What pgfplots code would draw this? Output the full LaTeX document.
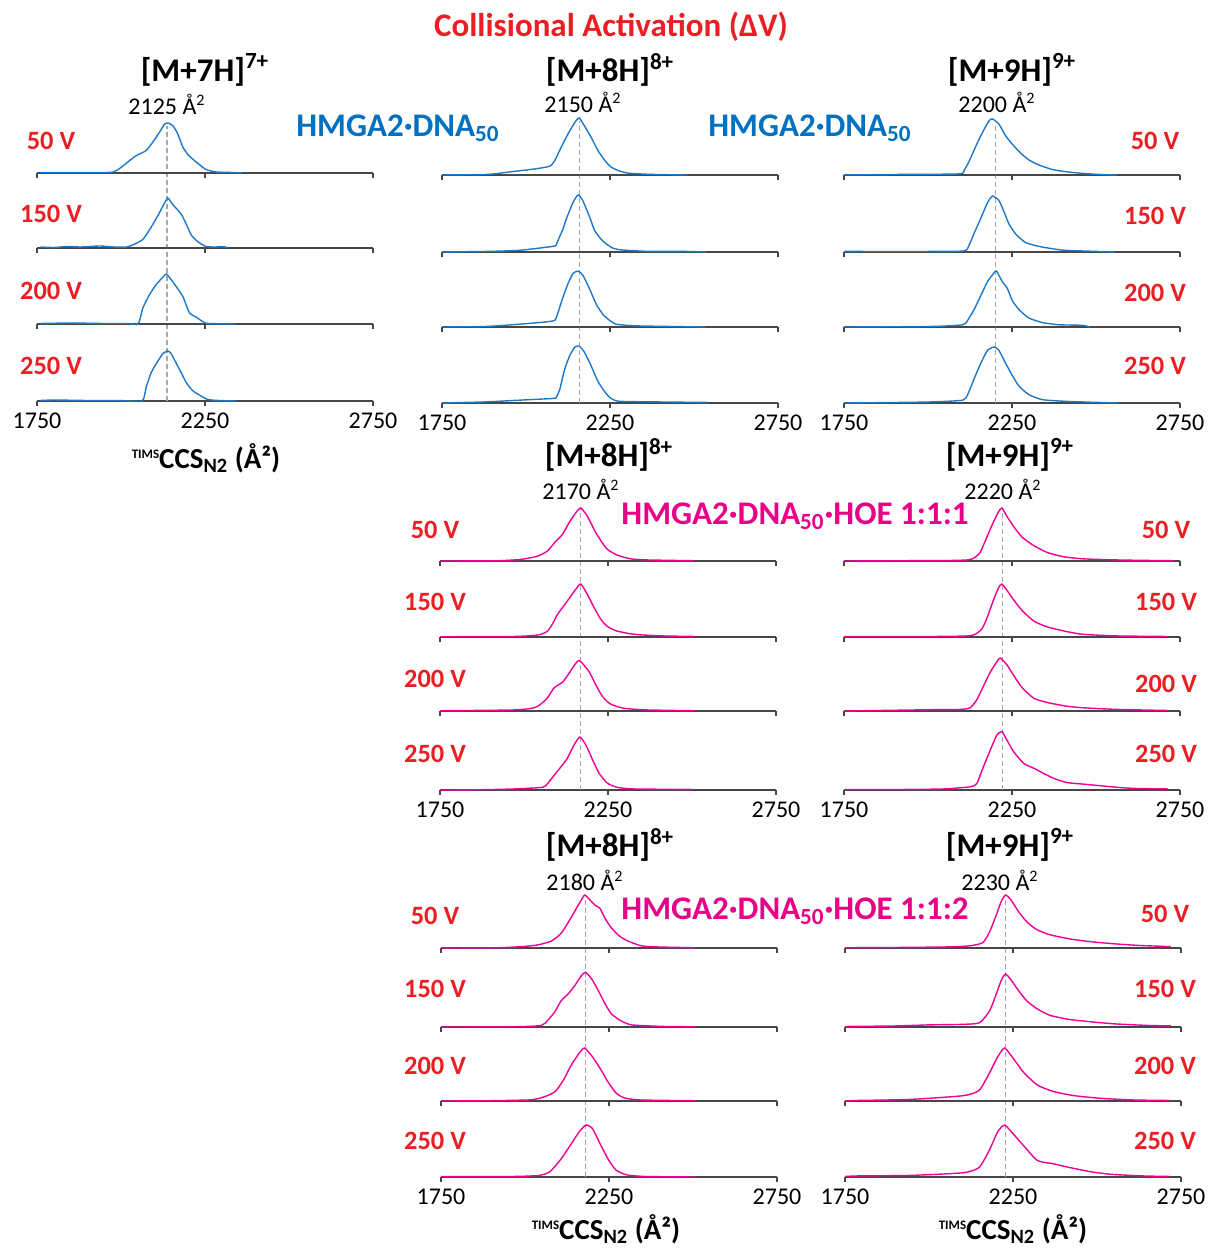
\documentclass[border=0pt]{standalone}
\usepackage{fontspec}
\setmainfont{Carlito}
\usepackage{pgfplots}
\pgfplotsset{compat=1.18}
\definecolor{labred}{RGB}{235,30,35}
\definecolor{txtblue}{RGB}{0,112,192}
\definecolor{trblue}{RGB}{30,120,200}
\definecolor{txtpink}{RGB}{232,0,135}
\definecolor{trpink}{RGB}{240,0,150}
\definecolor{axgray}{RGB}{70,70,70}
\definecolor{dgray}{RGB}{165,165,165}
\pgfplotsset{
 trace/.style={scale only axis, width=168pt, xmin=1750, xmax=2750, ymin=0, ymax=1,
  axis x line*=bottom, axis y line=none, xtick={1750,2250,2750}, xticklabels={,,},
  tick align=outside, major tick length=2.5pt,
  axis line style={draw=axgray, line width=0.8pt},
  every tick/.style={draw=axgray, line width=0.8pt},
  xticklabel style={font=\fontsize{12}{14}\selectfont, text=black},
  /pgf/number format/assume math mode=true,
  clip=false, anchor=south west},
 tline/.style={line width=0.7pt, smooth, tension=0.35, mark=none},
 dline/.style={dgray, line width=0.55pt, dash pattern=on 2.5pt off 1.5pt, mark=none}
}
\newcommand{\tr}[5]{%
 \begin{axis}[trace,at={(#1pt,-#2pt)},height=#3pt]
 \addplot[tline,#4] coordinates {#5};
 \end{axis}}
\newcommand{\trb}[7]{%
 \begin{axis}[trace,at={(#1pt,-#2pt)},height=#3pt,xticklabels={1750,2250,2750}]
 \addplot[dline] coordinates {(#6,0)(#6,#7)};
 \addplot[tline,#4] coordinates {#5};
 \end{axis}}
\tikzset{
 vl/.style={font=\fontsize{13.2}{15}\selectfont\bfseries, text=labred},
 hd/.style={font=\fontsize{16.5}{19}\selectfont\bfseries},
 cc/.style={font=\fontsize{12}{14}\selectfont},
 al/.style={font=\fontsize{14.5}{17}\selectfont\bfseries}
}
\newcommand{\ccs}{{\raisebox{0.7ex}{\fontsize{6.5}{7}\selectfont TIMS}}CCS\textsubscript{N2} (Å²)}
\begin{document}
\begin{tikzpicture}
\useasboundingbox (0,0) rectangle (604pt,-625.5pt);
% ---------- column 1, [M+7H]7+
\trb{18.5}{200.5}{25}{trblue}{(1760,0.01)(1800,0.02)(1900,0.01)(2000,0.01)(2063,0.0)(2075,0.28)(2090,0.57)(2110,0.8)(2125,0.95)(2139,1.0)(2149,0.95)(2164,0.76)(2179,0.57)(2194,0.37)(2213,0.21)(2233,0.12)(2258,0.03)(2292,0.01)(2342,0)}{2137}{5.5}
\tr{18.5}{162}{25}{trblue}{(1760,0.01)(1850,0.02)(1950,0.01)(2020,0.01)(2051,0.0)(2065,0.32)(2085,0.59)(2105,0.79)(2125,0.94)(2135,1.0)(2149,0.89)(2164,0.75)(2184,0.55)(2204,0.22)(2223,0.14)(2243,0.05)(2258,0.01)(2342,0)}
\tr{18.5}{124}{25}{trblue}{(1760,0.02)(1800,0.01)(1839,0.03)(1880,0.02)(1937,0.04)(1980,0.02)(2016,0.02)(2036,0.065)(2065,0.17)(2090,0.42)(2110,0.65)(2125,0.84)(2139,1.0)(2154,0.87)(2179,0.68)(2194,0.48)(2209,0.26)(2228,0.13)(2253,0.03)(2283,0.02)(2300,0.03)(2317,0.01)}
\tr{18.5}{86.5}{25}{trblue}{(1760,0.01)(1850,0.01)(1950,0.01)(1977,0.02)(1996,0.09)(2026,0.25)(2046,0.35)(2075,0.45)(2095,0.62)(2115,0.82)(2130,0.98)(2139,1.0)(2154,0.95)(2169,0.78)(2184,0.52)(2199,0.37)(2213,0.28)(2233,0.17)(2253,0.07)(2283,0.02)(2332,0.01)(2361,0)}
% ---------- column 2 row 1, [M+8H]8+
\trb{221}{201.5}{28.5}{trblue}{(1750,0)(1883,0.02)(1982,0.05)(2081,0.08)(2090,0.1)(2100,0.23)(2115,0.59)(2130,0.83)(2145,0.98)(2158,1.0)(2174,0.89)(2194,0.65)(2214,0.38)(2234,0.2)(2253,0.08)(2278,0.03)(2377,0.02)(2540,0.01)}{2160}{4.95}
\tr{221}{163.5}{28.5}{trblue}{(1750,0)(1883,0.01)(1982,0.05)(2061,0.09)(2086,0.12)(2095,0.25)(2110,0.52)(2125,0.76)(2140,0.94)(2155,0.98)(2169,0.91)(2189,0.67)(2209,0.4)(2229,0.22)(2248,0.12)(2268,0.05)(2327,0.02)(2535,0)}
\tr{221}{126}{28.5}{trblue}{(1750,0)(1883,0.01)(1982,0.03)(2081,0.1)(2090,0.13)(2100,0.27)(2110,0.4)(2120,0.58)(2140,0.87)(2155,1.0)(2169,0.9)(2189,0.62)(2204,0.38)(2224,0.22)(2239,0.14)(2258,0.07)(2278,0.04)(2327,0.02)(2377,0.01)(2475,0.01)(2535,0)}
\tr{221}{87.5}{28.5}{trblue}{(1750,0)(1883,0.01)(1933,0.04)(1982,0.075)(2031,0.11)(2071,0.155)(2086,0.26)(2105,0.49)(2125,0.72)(2145,0.92)(2158,1.0)(2174,0.86)(2194,0.66)(2214,0.43)(2234,0.26)(2253,0.14)(2278,0.07)(2308,0.03)(2377,0.01)(2480,0)}
% ---------- column 3 row 1, [M+9H]9+
\trb{422}{201.5}{28}{trblue}{(1750,0)(1915,0.01)(2014,0.02)(2103,0.05)(2118,0.15)(2137,0.43)(2157,0.71)(2177,0.94)(2197,1.0)(2211,0.94)(2231,0.71)(2251,0.49)(2271,0.3)(2300,0.15)(2340,0.06)(2409,0.03)(2508,0.01)(2567,0)}{2200}{4.96}
\tr{422}{163.5}{28}{trblue}{(1750,0)(2014,0.01)(2103,0.04)(2118,0.12)(2137,0.31)(2157,0.56)(2177,0.81)(2197,0.97)(2204,1.0)(2221,0.81)(2236,0.69)(2251,0.47)(2271,0.31)(2300,0.16)(2340,0.08)(2389,0.04)(2458,0.03)(2483,0)}
\tr{422}{126}{28}{trblue}{(1750,0.01)(2014,0.01)(2108,0.02)(2122,0.12)(2137,0.33)(2157,0.6)(2177,0.88)(2192,1.0)(2211,0.92)(2226,0.72)(2241,0.5)(2261,0.32)(2290,0.17)(2330,0.1)(2369,0.06)(2409,0.03)(2557,0)}
\tr{422}{87.5}{28}{trblue}{(1750,0)(1915,0.01)(2093,0.02)(2108,0.09)(2122,0.24)(2142,0.51)(2162,0.76)(2182,0.97)(2192,1.0)(2211,0.91)(2231,0.7)(2251,0.55)(2276,0.39)(2300,0.27)(2330,0.18)(2369,0.1)(2409,0.06)(2458,0.03)(2508,0.01)(2562,0)}
% ---------- row 2 column 2, HOE 1:1:1 [M+8H]8+
\trb{220}{395}{26.5}{trpink}{(1750,0)(1871,0.005)(1970,0.02)(2055,0.05)(2070,0.12)(2090,0.28)(2114,0.47)(2129,0.6)(2149,0.85)(2166,1.0)(2184,0.85)(2204,0.57)(2224,0.31)(2248,0.13)(2278,0.05)(2328,0.02)(2507,0.01)}{2169}{5.32}
\tr{220}{355.5}{26.5}{trpink}{(1750,0.005)(1970,0.02)(2030,0.06)(2050,0.13)(2070,0.25)(2090,0.44)(2114,0.54)(2134,0.71)(2154,0.9)(2166,0.95)(2194,0.74)(2214,0.49)(2234,0.27)(2258,0.13)(2298,0.05)(2368,0.02)(2507,0.005)}
\tr{220}{318.5}{26.5}{trpink}{(1750,0.005)(1970,0.01)(2030,0.03)(2050,0.05)(2070,0.11)(2085,0.25)(2100,0.43)(2114,0.55)(2129,0.68)(2154,0.9)(2169,1.0)(2189,0.8)(2209,0.55)(2229,0.33)(2248,0.2)(2273,0.12)(2308,0.07)(2348,0.04)(2417,0.02)(2507,0.01)}
\tr{220}{280.5}{26.5}{trpink}{(1750,0)(1921,0.005)(1990,0.03)(2040,0.09)(2070,0.19)(2090,0.34)(2114,0.5)(2134,0.72)(2154,0.91)(2169,1.0)(2189,0.84)(2209,0.59)(2229,0.38)(2248,0.22)(2278,0.11)(2318,0.04)(2368,0.02)(2507,0.005)}
% ---------- row 2 column 3, HOE 1:1:1 [M+9H]9+
\trb{422}{395}{26.5}{trpink}{(1750,0.01)(1916,0.01)(2046,0.02)(2125,0.06)(2145,0.12)(2165,0.44)(2185,0.75)(2205,1.04)(2220,1.1)(2235,0.94)(2255,0.72)(2285,0.5)(2315,0.41)(2345,0.31)(2374,0.22)(2414,0.14)(2464,0.11)(2514,0.08)(2564,0.05)(2614,0.03)(2713,0.02)}{2222}{5.28}
\tr{422}{355.5}{26.5}{trpink}{(1750,0)(2016,0.025)(2096,0.03)(2125,0.06)(2145,0.21)(2165,0.47)(2185,0.73)(2205,0.93)(2215,1.0)(2235,0.87)(2255,0.67)(2280,0.44)(2315,0.24)(2355,0.16)(2414,0.09)(2464,0.06)(2564,0.03)(2713,0.01)}
\tr{422}{318.5}{26.5}{trpink}{(1750,0.01)(2016,0.01)(2116,0.02)(2140,0.05)(2160,0.15)(2175,0.35)(2195,0.7)(2210,0.93)(2220,1.0)(2235,0.88)(2255,0.7)(2280,0.5)(2315,0.3)(2355,0.19)(2414,0.1)(2464,0.05)(2564,0.02)(2713,0.01)}
\tr{422}{280.5}{26.5}{trpink}{(1750,0)(1916,0.005)(2066,0.01)(2116,0.02)(2135,0.05)(2155,0.16)(2175,0.45)(2195,0.74)(2210,0.93)(2220,1.0)(2235,0.84)(2255,0.65)(2280,0.45)(2315,0.29)(2355,0.16)(2404,0.08)(2464,0.04)(2564,0.02)(2663,0.01)(2733,0.005)}
% ---------- row 3 column 2, HOE 1:1:2 [M+8H]8+
\trb{220.5}{588.5}{26.5}{trpink}{(1750,0.01)(1963,0.01)(2042,0.03)(2074,0.1)(2106,0.33)(2137,0.62)(2161,0.85)(2181,0.98)(2200,0.92)(2224,0.62)(2248,0.33)(2271,0.13)(2303,0.04)(2358,0.01)(2508,0)}{2181}{5.28}
\tr{220.5}{550.5}{26.5}{trpink}{(1750,0)(1884,0.005)(2011,0.02)(2042,0.05)(2066,0.1)(2090,0.18)(2113,0.38)(2137,0.67)(2161,0.9)(2177,1.0)(2200,0.84)(2224,0.61)(2248,0.35)(2271,0.15)(2295,0.06)(2343,0.02)(2508,0.005)}
\tr{220.5}{513.5}{26.5}{trpink}{(1750,0)(1969,0.005)(2049,0.03)(2068,0.13)(2088,0.28)(2108,0.5)(2128,0.62)(2148,0.78)(2168,0.97)(2180,1.03)(2198,0.91)(2218,0.69)(2238,0.44)(2257,0.25)(2282,0.13)(2317,0.04)(2417,0.01)(2506,0.005)}
\tr{220.5}{474}{26.5}{trpink}{(1750,0)(1919,0.005)(1999,0.03)(2039,0.06)(2078,0.13)(2108,0.28)(2133,0.53)(2153,0.75)(2168,0.91)(2178,1.0)(2193,0.91)(2208,0.81)(2223,0.75)(2238,0.56)(2257,0.38)(2282,0.22)(2307,0.13)(2347,0.04)(2397,0.02)(2506,0.005)}
% ---------- row 3 column 3, HOE 1:1:2 [M+9H]9+
\trb{422.5}{588.5}{26.5}{trpink}{(1750,0.01)(1785,0.02)(1943,0.03)(2101,0.08)(2149,0.18)(2180,0.51)(2204,0.85)(2225,0.98)(2251,0.81)(2283,0.58)(2323,0.31)(2370,0.25)(2418,0.18)(2481,0.1)(2544,0.05)(2639,0.02)(2718,0.01)}{2228}{5.28}
\tr{422.5}{550.5}{26.5}{trpink}{(1750,0)(1785,0.01)(1943,0.03)(2101,0.1)(2149,0.2)(2180,0.53)(2204,0.83)(2225,1.0)(2251,0.8)(2283,0.53)(2323,0.3)(2370,0.18)(2433,0.1)(2513,0.05)(2607,0.02)(2718,0.01)}
\tr{422.5}{513.5}{26.5}{trpink}{(1750,0.01)(1900,0.02)(2000,0.04)(2100,0.05)(2150,0.08)(2180,0.3)(2200,0.62)(2215,0.88)(2228,1.0)(2245,0.88)(2265,0.7)(2290,0.5)(2320,0.35)(2360,0.22)(2420,0.14)(2480,0.1)(2550,0.06)(2650,0.03)(2720,0.02)}
\tr{422.5}{474}{26.5}{trpink}{(1750,0.005)(1900,0.01)(2050,0.02)(2120,0.04)(2160,0.1)(2180,0.3)(2200,0.62)(2215,0.88)(2228,1.0)(2245,0.9)(2265,0.7)(2290,0.5)(2320,0.35)(2360,0.25)(2420,0.17)(2480,0.12)(2550,0.08)(2620,0.05)(2700,0.03)(2720,0.02)}
% ---------- texts
\begin{scope}[x=0.5pt,y=-0.5pt]
\node[hd, text=labred] at (611,27) {Collisional Activation (ΔV)};
% row 1 headers
\node[hd] at (205,70) {[M+7H]\textsuperscript{7+}};
\node[hd] at (610,70) {[M+8H]\textsuperscript{8+}};
\node[hd] at (1012,70) {[M+9H]\textsuperscript{9+}};
\node[cc] at (167,104) {2125 Å\textsuperscript{2}};
\node[cc] at (583,102) {2150 Å\textsuperscript{2}};
\node[cc] at (997,102) {2200 Å\textsuperscript{2}};
\node[hd, text=txtblue] at (398,128) {HMGA2·DNA\textsubscript{50}};
\node[hd, text=txtblue] at (810,128) {HMGA2·DNA\textsubscript{50}};
\node[vl] at (51,141) {50 V};
\node[vl] at (51,214) {150 V};
\node[vl] at (51,291) {200 V};
\node[vl] at (51,366) {250 V};
\node[vl] at (1155,141) {50 V};
\node[vl] at (1155,216) {150 V};
\node[vl] at (1155,293) {200 V};
\node[vl] at (1155,366) {250 V};
\node[al] at (206,458) {\ccs};
% row 2
\node[hd] at (609,455) {[M+8H]\textsuperscript{8+}};
\node[hd] at (1010,455) {[M+9H]\textsuperscript{9+}};
\node[cc] at (581,489) {2170 Å\textsuperscript{2}};
\node[cc] at (1003,489) {2220 Å\textsuperscript{2}};
\node[hd, text=txtpink] at (795,516) {HMGA2·DNA\textsubscript{50}·HOE 1:1:1};
\node[vl] at (435,530) {50 V};
\node[vl] at (435,602) {150 V};
\node[vl] at (435,679) {200 V};
\node[vl] at (435,754) {250 V};
\node[vl] at (1166,530) {50 V};
\node[vl] at (1166,602) {150 V};
\node[vl] at (1166,684) {200 V};
\node[vl] at (1166,754) {250 V};
% row 3
\node[hd] at (610,845) {[M+8H]\textsuperscript{8+}};
\node[hd] at (1010,845) {[M+9H]\textsuperscript{9+}};
\node[cc] at (585,880) {2180 Å\textsuperscript{2}};
\node[cc] at (1000,880) {2230 Å\textsuperscript{2}};
\node[hd, text=txtpink] at (795,911) {HMGA2·DNA\textsubscript{50}·HOE 1:1:2};
\node[vl] at (435,916) {50 V};
\node[vl] at (435,989) {150 V};
\node[vl] at (435,1066) {200 V};
\node[vl] at (435,1141) {250 V};
\node[vl] at (1165,914) {50 V};
\node[vl] at (1165,989) {150 V};
\node[vl] at (1165,1066) {200 V};
\node[vl] at (1165,1141) {250 V};
\node[al] at (606,1229) {\ccs};
\node[al] at (1013,1229) {\ccs};
\end{scope}
\end{tikzpicture}
\end{document}
